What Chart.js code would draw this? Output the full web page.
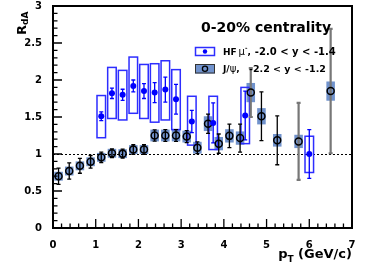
<!DOCTYPE html>
<html>
<head>
<meta charset="utf-8">
<script src="https://cdn.jsdelivr.net/npm/chart.js@4.4.0/dist/chart.umd.min.js"></script>
<style>
  html, body { margin: 0; padding: 0; background: #fff; }
</style>
</head>
<body>
<canvas id="myRda" width="366" height="269"></canvas>
<script>
// HF muons, -2.0 < y < -1.4
const hf_pt = [1.13, 1.38, 1.63, 1.88, 2.13, 2.38, 2.63, 2.88, 3.25, 3.75, 4.5, 6.0];
const hf_r = [1.51, 1.82, 1.80, 1.92, 1.85, 1.83, 1.87, 1.74, 1.44, 1.42, 1.52, 1.00];
const hf_stat = [0.06, 0.07, 0.075, 0.08, 0.10, 0.135, 0.17, 0.20, 0.15, 0.27, 0.33, 0.33];
const hf_sys_hi = [1.79, 2.17, 2.13, 2.31, 2.21, 2.22, 2.26, 2.14, 1.78, 1.78, 1.90, 1.24];
const hf_sys_lo = [1.22, 1.48, 1.46, 1.55, 1.48, 1.43, 1.46, 1.33, 1.12, 1.06, 1.14, 0.75];

// J/psi, -2.2 < y < -1.2
const jpsi_pt = [0.13, 0.38, 0.63, 0.88, 1.13, 1.38, 1.63, 1.88, 2.13, 2.38, 2.63, 2.88,
  3.13, 3.38, 3.63, 3.88, 4.13, 4.38, 4.63, 4.88, 5.25, 5.75, 6.5];
const jpsi_r = [0.70, 0.77, 0.84, 0.895, 0.955, 1.01, 1.005, 1.06, 1.06, 1.25, 1.25, 1.25,
  1.235, 1.085, 1.41, 1.14, 1.245, 1.215, 1.83, 1.51, 1.185, 1.17, 1.85];
const jpsi_stat = [0.11, 0.11, 0.10, 0.085, 0.07, 0.06, 0.06, 0.065, 0.065, 0.077, 0.08, 0.08,
  0.08, 0.08, 0.13, 0.13, 0.16, 0.19, 0.33, 0.33, 0.33, 0.52, 0.84];
const jpsi_sys = [0.06, 0.06, 0.06, 0.06, 0.06, 0.06, 0.06, 0.06, 0.06, 0.08, 0.08, 0.08,
  0.08, 0.08, 0.10, 0.09, 0.09, 0.09, 0.13, 0.11, 0.085, 0.09, 0.13];

const x_ticks = [0, 1, 2, 3, 4, 5, 6, 7];
const y_ticks = [0, 0.5, 1, 1.5, 2, 2.5, 3];

const FONT = '"DejaVu Sans", sans-serif';
const BOX_HALF = 0.1;
const grey_bars = [18, 21, 22]; // J/psi points drawn with the thick grey bar

function errBar(ctx, x, y0, y1, cap) {
  ctx.beginPath();
  ctx.moveTo(x, y0); ctx.lineTo(x, y1);
  ctx.moveTo(x - cap, y0); ctx.lineTo(x + cap, y0);
  ctx.moveTo(x - cap, y1); ctx.lineTo(x + cap, y1);
  ctx.stroke();
}

function runs(ctx, x, y, parts) {
  parts.forEach(p => {
    ctx.font = p.f;
    ctx.fillText(p.t, x, y + (p.dy || 0));
    x += ctx.measureText(p.t).width;
  });
  return x;
}

const rootStyle = {
  id: 'rootStyle',
  beforeDatasetsDraw(chart) {
    const ctx = chart.ctx;
    const a = chart.chartArea;
    const px = v => chart.scales.x.getPixelForValue(v);
    const py = v => chart.scales.y.getPixelForValue(v);
    ctx.save();

    // J/psi systematic boxes
    ctx.fillStyle = 'rgb(112,146,204)';
    jpsi_pt.forEach((x, i) => {
      const x0 = px(x - BOX_HALF), x1 = px(x + BOX_HALF);
      const y0 = py(jpsi_r[i] + jpsi_sys[i]), y1 = py(jpsi_r[i] - jpsi_sys[i]);
      ctx.fillRect(x0, y0, x1 - x0, y1 - y0);
    });

    // reference line at 1
    ctx.strokeStyle = '#000';
    ctx.lineWidth = 1;
    ctx.setLineDash([2, 2]);
    ctx.beginPath();
    ctx.moveTo(a.left, Math.round(py(1)) + 0.5);
    ctx.lineTo(a.right, Math.round(py(1)) + 0.5);
    ctx.stroke();
    ctx.setLineDash([]);

    // HF systematic boxes
    ctx.strokeStyle = 'rgb(45,45,255)';
    ctx.lineWidth = 1.5;
    hf_pt.forEach((x, i) => {
      const x0 = px(x - BOX_HALF), x1 = px(x + BOX_HALF);
      const y0 = py(hf_sys_hi[i]), y1 = py(hf_sys_lo[i]);
      ctx.strokeRect(x0, y0, x1 - x0, y1 - y0);
    });

    // J/psi stat errors
    jpsi_pt.forEach((x, i) => {
      const grey = grey_bars.includes(i);
      ctx.strokeStyle = grey ? '#777' : '#000';
      ctx.lineWidth = grey ? 2.2 : 1.3;
      errBar(ctx, px(x), py(jpsi_r[i] + jpsi_stat[i]), py(jpsi_r[i] - jpsi_stat[i]), 2);
    });

    // HF stat errors
    ctx.strokeStyle = '#0000ff';
    ctx.lineWidth = 1.3;
    hf_pt.forEach((x, i) => {
      errBar(ctx, px(x), py(hf_r[i] + hf_stat[i]), py(hf_r[i] - hf_stat[i]), 2);
    });
    ctx.restore();
  },
  afterDraw(chart) {
    const ctx = chart.ctx;
    const a = chart.chartArea;
    const px = v => chart.scales.x.getPixelForValue(v);
    const py = v => chart.scales.y.getPixelForValue(v);
    ctx.save();

    // frame
    ctx.strokeStyle = '#000';
    ctx.lineWidth = 2;
    ctx.strokeRect(a.left, a.top, a.right - a.left, a.bottom - a.top);

    // ROOT style ticks, inside the frame
    ctx.lineWidth = 1.3;
    ctx.beginPath();
    for (let k = 0; k <= 30; k++) {
      const y = py(k / 10);
      const len = k % 5 === 0 ? 9 : 4.5;
      ctx.moveTo(a.left, y); ctx.lineTo(a.left + len, y);
    }
    for (let k = 0; k <= 35; k++) {
      const x = px(k / 5);
      const len = k % 5 === 0 ? 9 : 4.5;
      ctx.moveTo(x, a.bottom); ctx.lineTo(x, a.bottom - len);
    }
    ctx.stroke();

    ctx.fillStyle = '#000';
    ctx.textAlign = 'left';
    ctx.textBaseline = 'alphabetic';

    // y title R_dA
    ctx.save();
    ctx.translate(26, 35);
    ctx.rotate(-Math.PI / 2);
    runs(ctx, 0, 0, [
      { t: 'R', f: 'bold 13px ' + FONT },
      { t: 'dA', f: 'bold 9px ' + FONT, dy: 1.5 }
    ]);
    ctx.restore();

    // x title p_T (GeV/c)
    const xt = [
      { t: 'p', f: 'bold 13px ' + FONT },
      { t: 'T', f: 'bold 9px ' + FONT, dy: 4 },
      { t: ' (GeV/c)', f: 'bold 13px ' + FONT }
    ];
    let w = 0;
    xt.forEach(p => { ctx.font = p.f; w += ctx.measureText(p.t).width; });
    runs(ctx, 352 - w, 257.5, xt);

    // legend
    ctx.font = 'bold 14px ' + FONT;
    ctx.fillText('0-20% centrality', 201, 31.5);

    ctx.fillStyle = '#fff';
    ctx.fillRect(195.5, 47.5, 19, 8);
    ctx.strokeStyle = 'rgb(45,45,255)';
    ctx.lineWidth = 1.5;
    ctx.strokeRect(195.5, 47.5, 19, 8);
    ctx.fillStyle = '#0000ff';
    ctx.beginPath(); ctx.arc(205, 51.5, 2.2, 0, Math.PI * 2); ctx.fill();

    ctx.fillStyle = 'rgb(112,146,204)';
    ctx.fillRect(195, 64, 20, 9.5);
    ctx.strokeStyle = '#333';
    ctx.lineWidth = 1;
    ctx.strokeRect(195.5, 64.5, 19, 8.5);
    ctx.strokeStyle = '#000';
    ctx.lineWidth = 1.3;
    ctx.beginPath(); ctx.arc(205, 68.7, 2.6, 0, Math.PI * 2); ctx.stroke();

    ctx.fillStyle = '#000';
    const b = 'bold 10px ' + FONT;
    let e1 = runs(ctx, 223, 54.5, [
      { t: 'HF', f: 'bold 9px ' + FONT },
      { t: ' ', f: '6px ' + FONT },
      { t: 'μ', f: '10px ' + FONT },
      { t: '-', f: 'bold 6px ' + FONT, dy: -5 },
      { t: ',', f: 'bold 9px ' + FONT }
    ]);
    ctx.font = b;
    ctx.fillText('-2.0 < y < -1.4', Math.max(253, e1 + 4), 54.5);
    let e2 = runs(ctx, 223, 72, [
      { t: 'J/', f: 'bold 9px ' + FONT },
      { t: 'ψ', f: '10px ' + FONT },
      { t: ',', f: 'bold 9px ' + FONT }
    ]);
    ctx.font = 'bold 9.5px ' + FONT;
    ctx.fillText('-2.2 < y < -1.2', Math.max(249, e2 + 4), 72);
    ctx.restore();
  }
};

const my_rda = document.getElementById('myRda');

new Chart(my_rda, {
  type: 'scatter',
  data: {
    datasets: [
      {
        label: 'HF mu-, -2.0 < y < -1.4',
        data: hf_pt.map((x, i) => ({ x: x, y: hf_r[i] })),
        pointRadius: 3,
        pointBackgroundColor: '#0000ff',
        pointBorderColor: '#0000ff',
        pointBorderWidth: 0
      },
      {
        label: 'J/psi, -2.2 < y < -1.2',
        data: jpsi_pt.map((x, i) => ({ x: x, y: jpsi_r[i] })),
        pointRadius: 3.5,
        pointBackgroundColor: 'rgba(0,0,0,0)',
        pointBorderColor: '#000',
        pointBorderWidth: 1.5
      }
    ]
  },
  options: {
    responsive: false,
    animation: false,
    devicePixelRatio: 1,
    layout: { padding: { top: 6, right: 14, left: 0, bottom: 0 } },
    plugins: {
      legend: { display: false },
      tooltip: { enabled: false }
    },
    scales: {
      x: {
        type: 'linear',
        min: 0,
        max: 7,
        afterFit: s => { s.height = 41; s.paddingLeft = 0; s.paddingRight = 0; },
        afterBuildTicks: s => { s.ticks = x_ticks.map(v => ({ value: v })); },
        grid: { display: false },
        border: { display: false },
        ticks: {
          padding: 3,
          color: '#000',
          callback: v => String(v),
          font: { family: 'DejaVu Sans', weight: 'bold', size: 10 }
        }
      },
      y: {
        min: 0,
        max: 3,
        afterFit: s => { s.width = 53; s.paddingTop = 0; s.paddingBottom = 0; },
        afterBuildTicks: s => { s.ticks = y_ticks.map(v => ({ value: v })); },
        grid: { display: false },
        border: { display: false },
        ticks: {
          padding: 3,
          color: '#000',
          callback: v => String(v),
          font: { family: 'DejaVu Sans', weight: 'bold', size: 10 }
        }
      }
    }
  },
  plugins: [rootStyle]
});
</script>
</body>
</html>
